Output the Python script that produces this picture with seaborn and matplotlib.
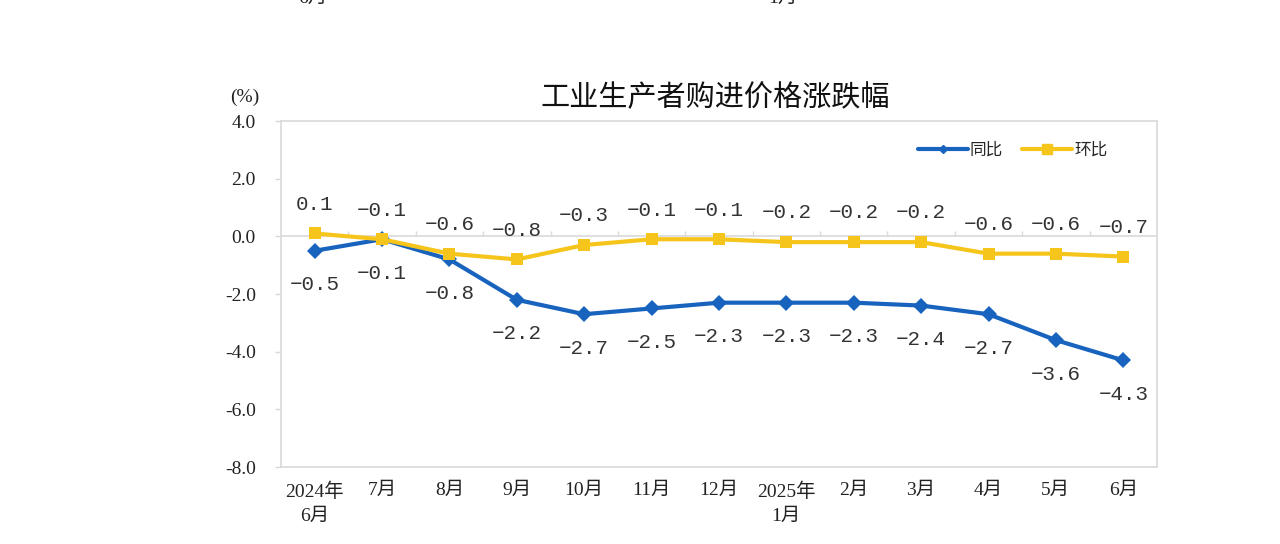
import numpy as np
import pandas as pd
import matplotlib
matplotlib.use("Agg")
import matplotlib.pyplot as plt
from matplotlib.lines import Line2D
import seaborn as sns

# chart data
months = ["2024年\n6月", "7月", "8月", "9月", "10月", "11月", "12月",
          "2025年\n1月", "2月", "3月", "4月", "5月", "6月"]
yoy = [-0.5, -0.1, -0.8, -2.2, -2.7, -2.5, -2.3, -2.3, -2.3, -2.4, -2.7, -3.6, -4.3]
mom = [0.1, -0.1, -0.6, -0.8, -0.3, -0.1, -0.1, -0.2, -0.2, -0.2, -0.6, -0.6, -0.7]
yticks = [4.0, 2.0, 0.0, -2.0, -4.0, -6.0, -8.0]

BLUE = "#1763BE"
YELLOW = "#F5C51C"
GRID = "#D9D9D9"

sns.set_theme(style="white")
plt.rcParams["font.family"] = ["Liberation Serif", "Noto Sans CJK SC", "DejaVu Sans"]
plt.rcParams["axes.unicode_minus"] = False

cjk = ["Noto Sans CJK SC", "DejaVu Sans"]
serif = ["Liberation Serif", "Noto Sans CJK SC"]
mono = ["Liberation Mono", "DejaVu Sans Mono"]

df = pd.DataFrame({"x": np.arange(len(months)), "同比": yoy, "环比": mom})

fig = plt.figure(figsize=(12.8, 5.44), dpi=100)
ax = fig.add_axes([0.2195, 0.1415, 0.6844, 0.636])

sns.lineplot(data=df, x="x", y="同比", ax=ax, color=BLUE, linewidth=3,
             marker="D", markersize=8, markeredgewidth=0, zorder=3)
sns.lineplot(data=df, x="x", y="环比", ax=ax, color=YELLOW, linewidth=3,
             marker="s", markersize=8, markeredgewidth=0, zorder=4)

ax.set_xlim(-0.5, len(months) - 0.5)
ax.set_ylim(-8, 4)
ax.set_xlabel("")
ax.set_ylabel("")

# frame
for sp in ax.spines.values():
    sp.set_color(GRID)
    sp.set_linewidth(1.2)

# category axis at zero with small boundary ticks
ax.axhline(0, color=GRID, linewidth=1.2, zorder=1)
bounds = np.arange(len(months) - 1) + 0.5
ax.vlines(bounds, 0, 0.18, color=GRID, linewidth=1.0, zorder=1)

ax.set_xticks(df["x"])
ax.set_xticklabels(months, fontfamily=serif, fontsize=14, linespacing=1.55)
ax.set_yticks(yticks)
ax.set_yticklabels([f"{v:.1f}" for v in yticks], fontfamily=serif, fontsize=14)
ax.tick_params(axis="x", length=0, pad=11, colors="#222222")
ax.tick_params(axis="y", length=4, width=1, color=GRID, pad=14, left=True,
               labelcolor="#222222")

# data labels
for i in range(len(months)):
    ax.annotate(f"{mom[i]:.1f}".replace("-", "−"), (i, mom[i]), xytext=(0, 21),
                textcoords="offset points", ha="center", va="center",
                fontfamily=mono, fontsize=15, color="#333333")
    ax.annotate(f"{yoy[i]:.1f}".replace("-", "−"), (i, yoy[i]), xytext=(0, -24.5),
                textcoords="offset points", ha="center", va="center",
                fontfamily=mono, fontsize=15, color="#333333")

handles = [Line2D([], [], color=BLUE, linewidth=3, marker="D", markersize=4),
           Line2D([], [], color=YELLOW, linewidth=3, marker="s", markersize=7)]
ax.legend(handles, ["同比", "环比"], loc="center", bbox_to_anchor=(0.835, 0.915),
          ncol=2, frameon=False, handlelength=3.0, handletextpad=0.1,
          columnspacing=1.2, prop={"family": cjk, "size": 12})

fig.text(715 / 1280, 1 - 98 / 544, "工业生产者购进价格涨跌幅", ha="center",
         va="center", fontfamily=cjk, fontsize=21, color="#111111")
fig.text(245 / 1280, 1 - 97 / 544, "(%)", ha="center", va="center",
         fontfamily=serif, fontsize=14, color="#222222")

# remnants of the chart above, cut off at the top edge (as in the source image)
fig.text(313 / 1280, 1 + 2 / 544, "6月", ha="center", va="center",
         fontfamily=serif, fontsize=14, color="#222222")
fig.text(783 / 1280, 1 + 2 / 544, "1月", ha="center", va="center",
         fontfamily=serif, fontsize=14, color="#222222")

fig.savefig("out.png", dpi=100)
